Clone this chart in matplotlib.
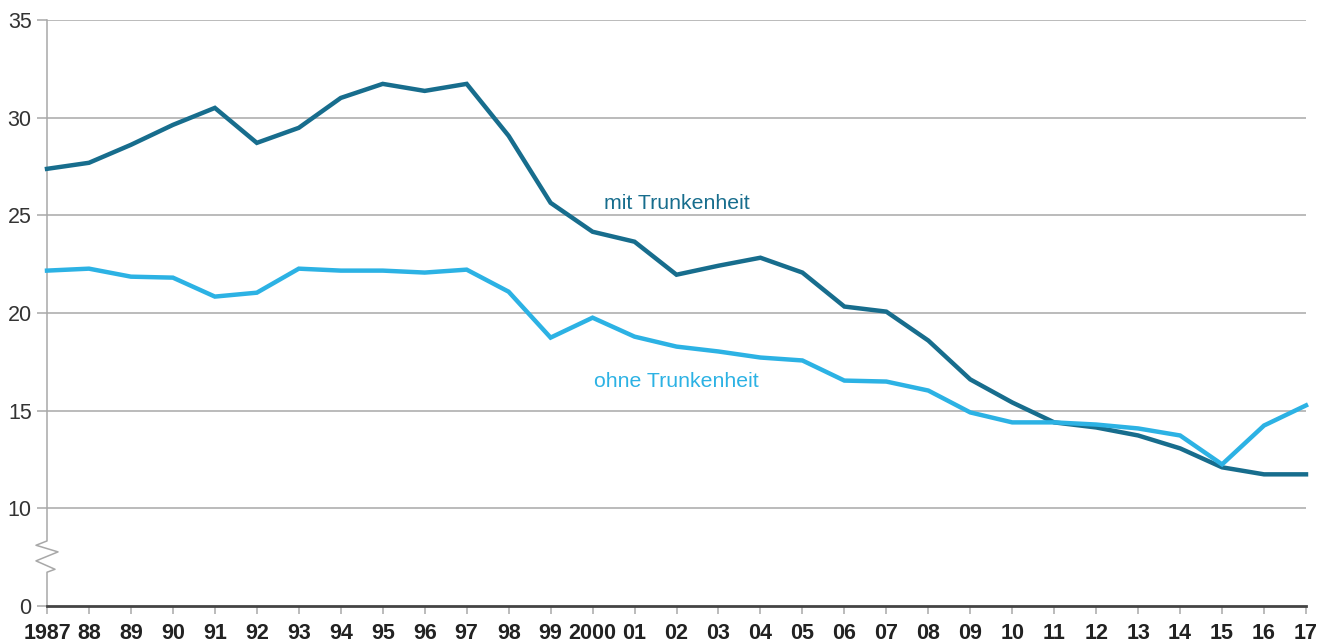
import matplotlib
matplotlib.use("Agg")
import matplotlib.pyplot as plt
from matplotlib.transforms import blended_transform_factory

years = list(range(1987, 2018))
mit_trunkenheit = [27.38, 27.69, 28.61, 29.63, 30.50, 28.71, 29.48, 31.01, 31.73, 31.37,
                   31.73, 29.07, 25.64, 24.16, 23.65, 21.96, 22.42, 22.83, 22.07, 20.33,
                   20.07, 18.59, 16.60, 15.42, 14.40, 14.14, 13.73, 13.07, 12.10, 11.74, 11.74]
ohne_trunkenheit = [22.17, 22.27, 21.86, 21.81, 20.84, 21.04, 22.27, 22.17, 22.17, 22.07,
                    22.22, 21.09, 18.74, 19.76, 18.79, 18.28, 18.03, 17.72, 17.57, 16.54,
                    16.49, 16.03, 14.91, 14.40, 14.40, 14.29, 14.09, 13.73, 12.25, 14.24, 15.27]
x_labels = ["1987", "88", "89", "90", "91", "92", "93", "94", "95", "96", "97", "98", "99",
            "2000", "01", "02", "03", "04", "05", "06", "07", "08", "09", "10", "11", "12",
            "13", "14", "15", "16", "17"]
y_tick_values = [0, 10, 15, 20, 25, 30, 35]
# broken axis: value 0 drawn at the plot position 5
y_tick_positions = [5, 10, 15, 20, 25, 30, 35]

DARK = "#176d8d"
LIGHT = "#2cb2e4"
GRID = "#a8a8a8"

plt.rcParams['font.family'] = ['Liberation Sans', 'DejaVu Sans']

fig = plt.figure(figsize=(13.29, 6.43), dpi=100)
ax = fig.add_axes([47/1329, 1 - 606/643, (1306-47)/1329, (606-20)/643])

ax.set_xlim(1987, 2017)
ax.set_ylim(5, 35)

for yv in y_tick_positions[1:]:
    ax.axhline(yv, color=GRID, lw=1.1, zorder=1)

ax.plot(years, mit_trunkenheit, color=DARK, lw=3.2, solid_joinstyle='miter', zorder=3, clip_on=False)
ax.plot(years, ohne_trunkenheit, color=LIGHT, lw=3.2, solid_joinstyle='miter', zorder=3, clip_on=False)

ax.text(2002.0, 25.6, "mit Trunkenheit", color=DARK, fontsize=15.3, ha='center', va='center')
ax.text(2002.0, 16.5, "ohne Trunkenheit", color=LIGHT, fontsize=15.3, ha='center', va='center')

# spines
for s in ['top', 'right', 'left']:
    ax.spines[s].set_visible(False)
ax.spines['bottom'].set_color('#444444')
ax.spines['bottom'].set_linewidth(2)
ax.spines['bottom'].set_zorder(4)

# left axis with break zigzag
tr = blended_transform_factory(ax.transAxes, ax.transData)
px = 1.0 / (1306 - 47)
zx = [0, 0, -11*px, 11*px, -11*px, 8*px, 0, 0]
zy = [35, 8.33, 8.11, 7.77, 7.31, 6.88, 6.73, 5]
ax.plot(zx, zy, color=GRID, lw=1.1, transform=tr, clip_on=False, zorder=2)

ax.set_yticks(y_tick_positions)
ax.set_yticklabels([str(v) for v in y_tick_values])
ax.set_xticks(years)
ax.set_xticklabels(x_labels)

ax.tick_params(axis='y', length=7, width=1.1, color=GRID, labelsize=15.5, labelcolor='#333333', pad=4)
ax.tick_params(axis='x', length=6, width=1.1, color=GRID, labelsize=15.5, labelcolor='#222222', pad=6)
for lab in ax.get_xticklabels():
    lab.set_fontweight('bold')

fig.savefig("out.png", dpi=100, facecolor='white')
